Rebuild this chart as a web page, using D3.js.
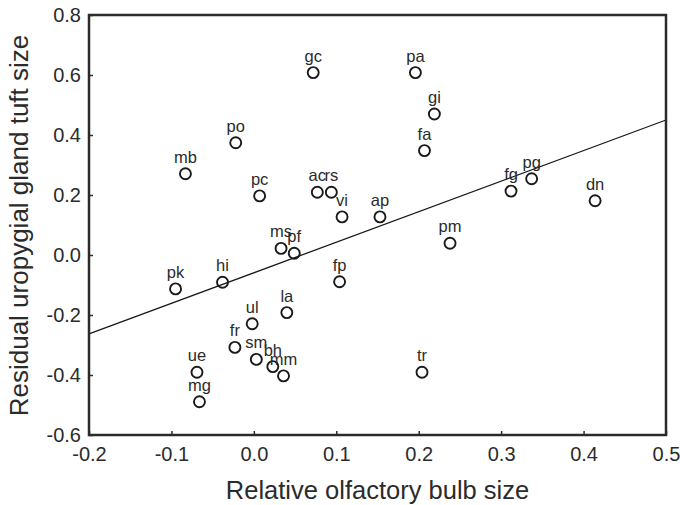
<!DOCTYPE html>
<html>
<head>
<meta charset="utf-8">
<script src="https://cdnjs.cloudflare.com/ajax/libs/d3/7.8.5/d3.min.js"></script>
<style>
  body { margin: 0; background: #fff; }
  text { font-family: Arial, "Liberation Sans", sans-serif; fill: #2b2b2b; }
</style>
</head>
<body>
<div id="scatter"></div>
<script>
// Species codes and values
var species = ["gc", "pa", "gi", "po", "fa", "mb", "ac", "rs", "pc", "vi", "ap",
  "fg", "pg", "dn", "pm", "ms", "pf", "pk", "hi", "fp", "la", "ul", "fr", "sm",
  "bh", "mm", "ue", "mg", "tr"];
var bulbSize = [0.072, 0.196, 0.219, -0.022, 0.207, -0.083, 0.077, 0.094, 0.007, 0.107, 0.153,
  0.312, 0.337, 0.414, 0.238, 0.033, 0.049, -0.095, -0.038, 0.104, 0.040, -0.002, -0.023, 0.003,
  0.023, 0.036, -0.069, -0.066, 0.204];
var tuftSize = [0.608, 0.608, 0.470, 0.374, 0.348, 0.271, 0.209, 0.209, 0.197, 0.127, 0.127,
  0.213, 0.254, 0.181, 0.039, 0.022, 0.006, -0.113, -0.091, -0.089, -0.192, -0.229, -0.308, -0.348,
  -0.372, -0.403, -0.391, -0.489, -0.391];

// Regression line end points
var fitX = [-0.2, 0.5];
var fitY = [-0.263, 0.45];

// Tick values
var xTicks = [-0.2, -0.1, 0.0, 0.1, 0.2, 0.3, 0.4, 0.5];
var yTicks = [-0.6, -0.4, -0.2, 0.0, 0.2, 0.4, 0.6, 0.8];

// Define chart size and margins
var svgWidth = 680;
var svgHeight = 505;

var margin = {
  top: 15,
  right: 14,
  bottom: 70,
  left: 89
};

var width = svgWidth - margin.left - margin.right;
var height = svgHeight - margin.top - margin.bottom;

var svg = d3
  .select("#scatter")
  .append("svg")
  .attr("width", svgWidth)
  .attr("height", svgHeight);

var chartGroup = svg.append("g")
  .attr("transform", `translate(${margin.left}, ${margin.top})`);

// scales
var xLinearScale = d3.scaleLinear()
  .domain([-0.2, 0.5])
  .range([0, width]);

var yLinearScale = d3.scaleLinear()
  .domain([-0.6, 0.8])
  .range([height, 0]);

// axes, ticks pointing inward
var bottomAxis = d3.axisBottom(xLinearScale)
  .tickValues(xTicks)
  .tickFormat(d => d.toFixed(1))
  .tickSizeInner(-4)
  .tickSizeOuter(0)
  .tickPadding(12);

var leftAxis = d3.axisLeft(yLinearScale)
  .tickValues(yTicks)
  .tickFormat(d => d.toFixed(1))
  .tickSizeInner(-4)
  .tickSizeOuter(0)
  .tickPadding(8);

var xAxis = chartGroup.append("g")
  .attr("transform", `translate(0, ${height})`)
  .call(bottomAxis);

var yAxis = chartGroup.append("g")
  .call(leftAxis);

[xAxis, yAxis].forEach(function (ax) {
  ax.select(".domain").remove();
  ax.selectAll("line").attr("stroke", "#2b2b2b").attr("stroke-width", 1.5);
  ax.selectAll("text")
    .style("font-size", "20px")
    .attr("fill", "#2b2b2b");
});

// regression line
var line = d3.line()
  .x(d => xLinearScale(d[0]))
  .y(d => yLinearScale(d[1]));

chartGroup.append("path")
  .datum(d3.zip(fitX, fitY))
  .attr("d", line)
  .attr("fill", "none")
  .attr("stroke", "#1a1a1a")
  .attr("stroke-width", 1.3);

// points
var points = d3.range(species.length);

chartGroup.selectAll("circle")
  .data(points)
  .enter()
  .append("circle")
  .attr("cx", i => xLinearScale(bulbSize[i]))
  .attr("cy", i => yLinearScale(tuftSize[i]))
  .attr("r", 5.5)
  .attr("fill", "none")
  .attr("stroke", "#1a1a1a")
  .attr("stroke-width", 1.9);

chartGroup.selectAll("text.species")
  .data(points)
  .enter()
  .append("text")
  .attr("class", "species")
  .attr("x", i => xLinearScale(bulbSize[i]))
  .attr("y", i => yLinearScale(tuftSize[i]) - 11)
  .style("text-anchor", "middle")
  .style("font-size", "16.5px")
  .text(i => species[i]);

// frame
chartGroup.append("rect")
  .attr("x", 0)
  .attr("y", 0)
  .attr("width", width)
  .attr("height", height)
  .attr("fill", "none")
  .attr("stroke", "#2b2b2b")
  .attr("stroke-width", 2.5);

// axis titles
chartGroup.append("text")
  .attr("x", width / 2)
  .attr("y", height + 64)
  .style("text-anchor", "middle")
  .style("font-size", "25.5px")
  .text("Relative olfactory bulb size");

svg.append("text")
  .attr("transform", "rotate(-90)")
  .attr("x", -225.5)
  .attr("y", 28)
  .style("text-anchor", "middle")
  .style("font-size", "26px")
  .text("Residual uropygial gland tuft size");
</script>
</body>
</html>
